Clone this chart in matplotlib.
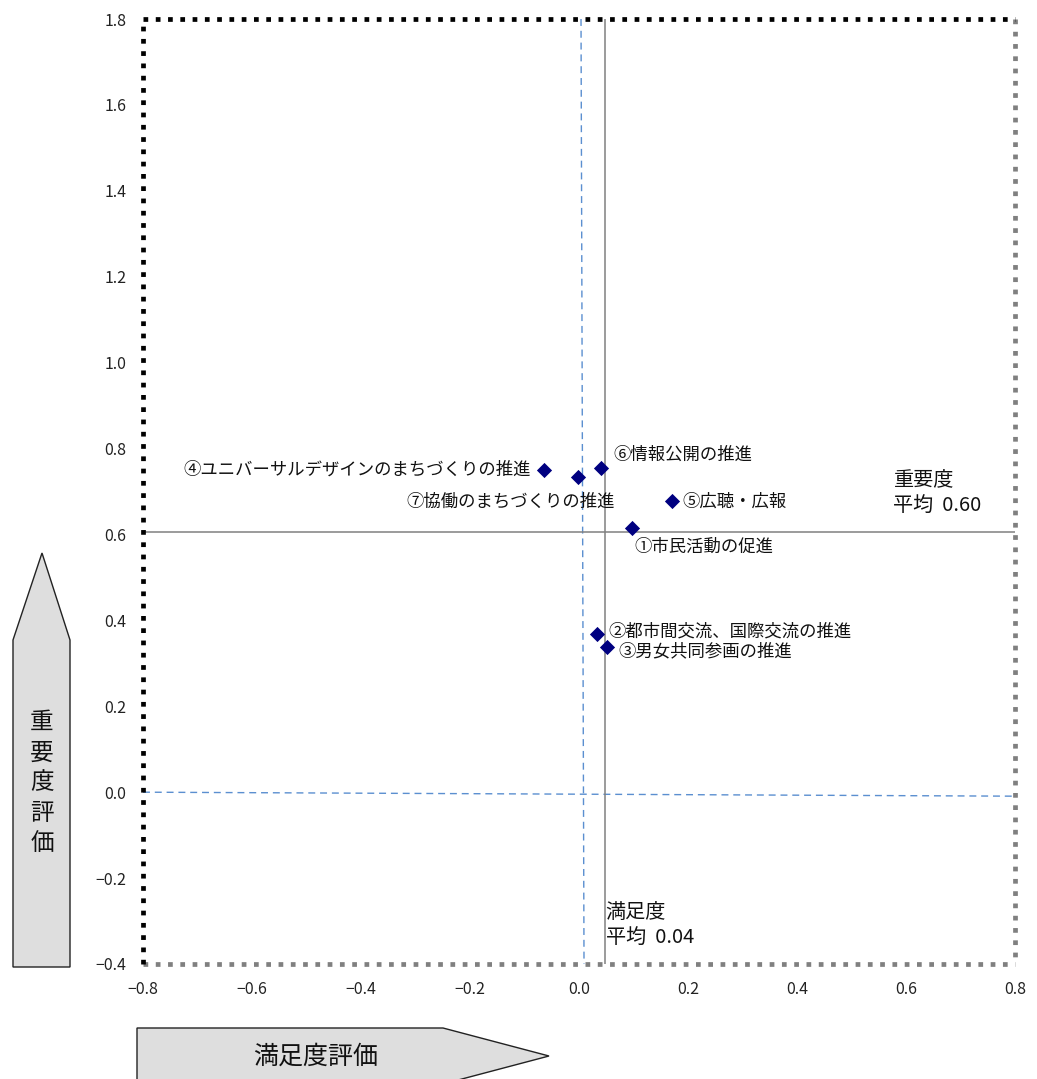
import matplotlib
matplotlib.use("Agg")
import matplotlib.pyplot as plt
from matplotlib.patches import Polygon
from matplotlib.lines import Line2D

plt.rcParams['font.family'] = ['Noto Sans CJK JP', 'DejaVu Sans']

# ---- data ----
labels = ["①市民活動の促進", "②都市間交流、国際交流の推進", "③男女共同参画の推進",
          "④ユニバーサルデザインのまちづくりの推進", "⑤広聴・広報", "⑥情報公開の推進",
          "⑦協働のまちづくりの推進"]
satisfaction = [0.097, 0.033, 0.051, -0.064, 0.171, 0.040, -0.002]
importance = [0.615, 0.368, 0.338, 0.750, 0.678, 0.755, 0.734]
sat_avg = 0.047
imp_avg = 0.605
sat_avg_text = "0.04"
imp_avg_text = "0.60"
xticks = [-0.8, -0.6, -0.4, -0.2, 0.0, 0.2, 0.4, 0.6, 0.8]
yticks = [-0.4, -0.2, 0.0, 0.2, 0.4, 0.6, 0.8, 1.0, 1.2, 1.4, 1.6, 1.8]

# label offsets in pixels and alignment
offsets = [(3, -19, 'left'), (11, 3, 'left'), (12, -4, 'left'), (-13, 0, 'right'),
           (10, -1, 'left'), (13, 13, 'left'), (37, -25, 'right')]

W, H = 1037, 1079
fig = plt.figure(figsize=(W / 100, H / 100), dpi=100)
ax = fig.add_axes([143 / W, 1 - 964 / H, (1015 - 143) / W, (964 - 19) / H])
ax.set_xlim(-0.8, 0.8)
ax.set_ylim(-0.4, 1.8)
for s in ax.spines.values():
    s.set_visible(False)
ax.set_xticks(xticks)
ax.set_yticks(yticks)
ax.set_xticklabels([f"{v:.1f}".replace('-', '−') for v in xticks])
ax.set_yticklabels([f"{v:.1f}".replace('-', '−') for v in yticks])
ax.tick_params(length=0, labelsize=11.5, colors='#222222')
ax.tick_params(axis='y', pad=12)
ax.tick_params(axis='x', pad=12)

# dotted border
dot = dict(lw=3.4, linestyle=(0, (1, 1.6)), dash_capstyle='butt', solid_capstyle='butt',
           transform=ax.transAxes, clip_on=False)
ax.add_line(Line2D([1, 1], [1, 0], color='#808080', **dot))
ax.add_line(Line2D([0, 1], [0, 0], color='#808080', **dot))
ax.add_line(Line2D([0, 1], [1, 1], color='black', **dot))
ax.add_line(Line2D([0, 0], [0, 1], color='black', **dot))

# blue dashed zero lines (slightly tilted as in the reference)
ax.plot([0.0037, 0.0092], [1.8, -0.4], color='#5B8FD0', lw=1.0, ls=(0, (5, 3.5)), zorder=1)
ax.plot([-0.8, 0.8], [0.0, -0.0093], color='#5B8FD0', lw=1.0, ls=(0, (5, 3.5)), zorder=1)

# average lines
ax.axvline(sat_avg, color='#808080', lw=1.1, zorder=1)
ax.axhline(imp_avg, color='#808080', lw=1.1, zorder=1)

ax.scatter(satisfaction, importance, marker='D', s=60, color='#000080', zorder=3, linewidths=0)

for lab, x, y, (dx, dy, ha) in zip(labels, satisfaction, importance, offsets):
    ax.annotate(lab, (x, y), xytext=(dx, dy), textcoords='offset pixels',
                ha=ha, va='center', fontsize=12.5, color='#111111')

ax.text(sat_avg + 0.002, -0.309, "満足度\n平均  " + sat_avg_text, ha='left', va='center',
        fontsize=14.5, linespacing=1.3, color='#111111')
ax.text(0.577, 0.752, "重要度\n平均  " + imp_avg_text, ha='left', va='top',
        fontsize=14.5, linespacing=1.3, color='#111111')

# arrows
def fc(pts):
    return [(x / W, 1 - y / H) for x, y in pts]

varrow = Polygon(fc([(13, 967), (13, 640), (42, 553), (70, 640), (70, 967)]),
                 closed=True, facecolor='#DEDEDE', edgecolor='#222222', lw=1.0,
                 transform=fig.transFigure)
harrow = Polygon(fc([(137, 1028), (443, 1028), (549, 1056), (443, 1084), (137, 1084)]),
                 closed=True, facecolor='#DEDEDE', edgecolor='#222222', lw=1.0,
                 transform=fig.transFigure)
fig.patches.extend([varrow, harrow])

fig.text(42 / W, 1 - 783 / H, "重\n要\n度\n評\n価", ha='center', va='center',
         fontsize=17, linespacing=1.4, color='#111111')
fig.text(316 / W, 1 - 1057 / H, "満足度評価", ha='center', va='center',
         fontsize=18, color='#111111')

fig.savefig("out.png", dpi=100)
